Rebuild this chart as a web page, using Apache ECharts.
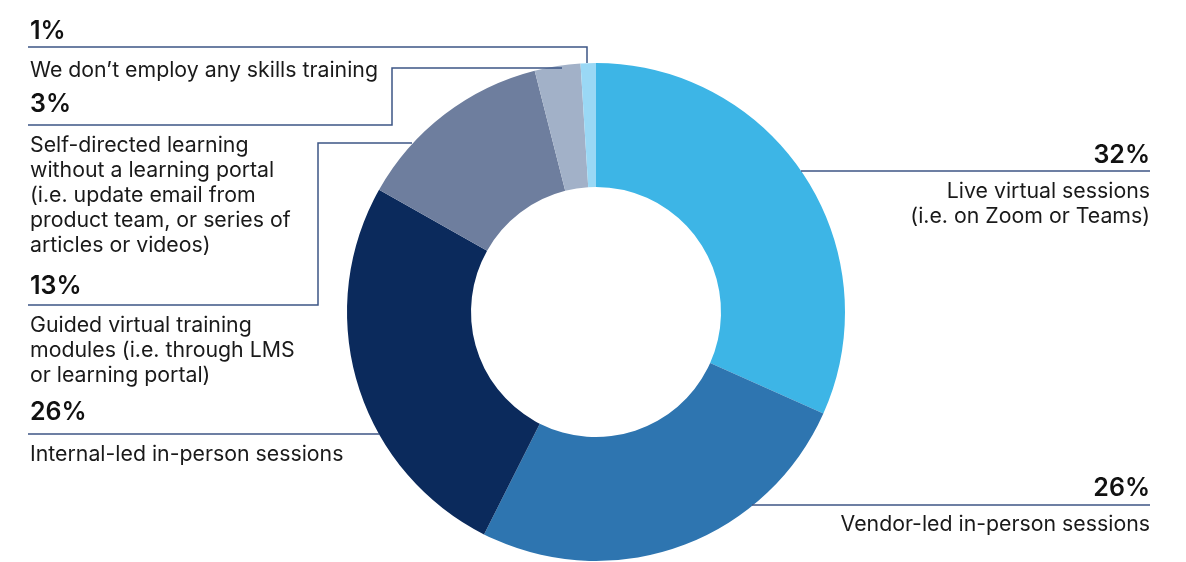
<!DOCTYPE html>
<html>
<head>
<meta charset="utf-8">
<script src="https://cdn.jsdelivr.net/npm/echarts@6/dist/echarts.min.js"></script>
<style>
html,body{margin:0;padding:0;background:#fff;}
#chart{width:1186px;height:562px;}
</style>
</head>
<body>
<div id="chart"></div>
<script>
// ---- data ----
const categories = [
  'Live virtual sessions\n(i.e. on Zoom or Teams)',
  'Vendor-led in-person sessions',
  'Internal-led in-person sessions',
  'Guided virtual training\nmodules (i.e. through LMS\nor learning portal)',
  'Self-directed learning\nwithout a learning portal\n(i.e. update email from\nproduct team, or series of\narticles or videos)',
  'We don\u2019t employ any skills training'
];
const values = [32, 26, 26, 13, 3, 1];
const percentLabels = values.map(v => v + '%');

// ---- styling / layout (not data) ----
const colors = ['#3db5e6', '#2e75b0', '#0b2a5c', '#6e7e9e', '#a2b1c8', '#9ad8f5'];
const FONT = 'Inter, "Noto Sans", sans-serif';
const lineColor = '#3d5585';
// label block placement per slice index
const layout = [
  {x: 1150, align: 'right', pctY: 155, descY: 192, line: [[801,171],[1150,171]]},
  {x: 1150, align: 'right', pctY: 488, descY: 525, line: [[752,505],[1150,505]]},
  {x: 30, align: 'left', pctY: 412, descY: 455, line: [[28,434],[379,434]]},
  {x: 30, align: 'left', pctY: 286, descY: 326, line: [[28,305],[318,305],[318,143],[412,143]]},
  {x: 30, align: 'left', pctY: 104, descY: 146, line: [[28,125],[392,125],[392,68],[562,68]]},
  {x: 30, align: 'left', pctY: 31, descY: 71, line: [[28,47],[587,47],[587,63]]}
];
const LH = 24.8;

const graphics = [];
categories.forEach((cat, i) => {
  const L = layout[i];
  graphics.push({
    type: 'polyline', z: 10,
    shape: {points: L.line},
    style: {stroke: lineColor, lineWidth: 1.5, fill: null}
  });
  graphics.push({
    type: 'text', z: 10,
    style: {
      text: percentLabels[i], x: L.x, y: L.pctY,
      fontFamily: FONT, fontSize: 25, fontWeight: 600, fill: '#111',
      align: L.align, verticalAlign: 'middle'
    }
  });
  graphics.push({
    type: 'text', z: 10,
    style: {
      text: cat, x: L.x, y: L.descY - LH / 2,
      fontFamily: FONT, fontSize: 21.3, fontWeight: 400, fill: '#1a1a1a',
      align: L.align, verticalAlign: 'top', lineHeight: LH
    }
  });
});

const chart = echarts.init(document.getElementById('chart'), null, {renderer: 'canvas'});
chart.setOption({
  animation: false,
  backgroundColor: '#fff',
  series: [{
    type: 'pie',
    center: [596, 312],
    radius: [125, 249],
    startAngle: 90,
    clockwise: true,
    avoidLabelOverlap: false,
    label: {show: false},
    labelLine: {show: false},
    itemStyle: {borderWidth: 0},
    emphasis: {disabled: true},
    data: values.map((v, i) => ({name: categories[i], value: v, itemStyle: {color: colors[i]}}))
  }],
  graphic: graphics
});
</script>
</body>
</html>
